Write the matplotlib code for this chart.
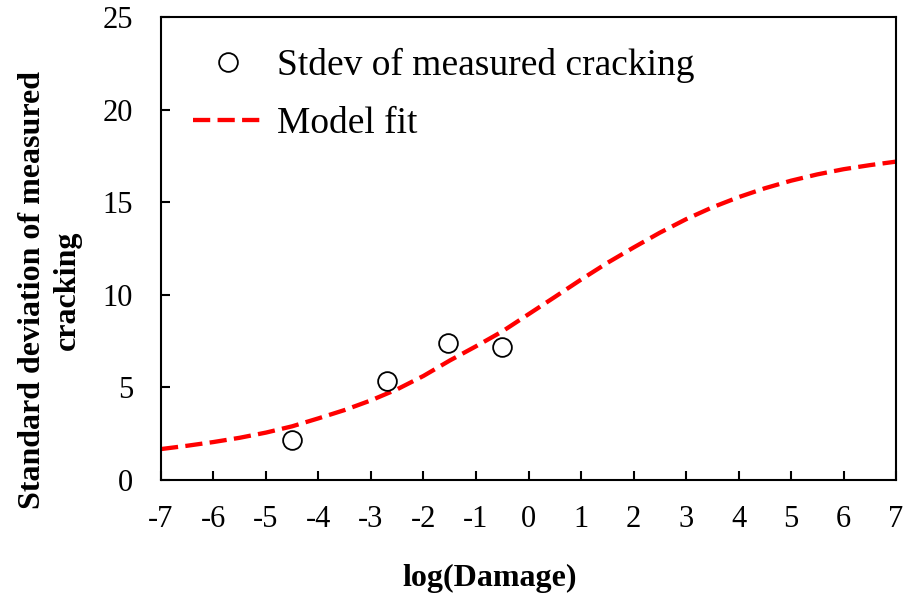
import matplotlib
matplotlib.use("Agg")
import matplotlib.pyplot as plt

# Measured data points
meas_x = [-4.5, -2.7, -1.53, -0.5]
meas_y = [2.16, 5.35, 7.40, 7.18]

# Model fit curve
fit_x = [-7, -6.5, -6, -5.5, -5, -4.5, -4, -3.5, -3, -2.5, -2, -1.5, -1, -0.5,
         0, 0.5, 1, 1.5, 2, 2.5, 3, 3.5, 4, 4.5, 5, 5.5, 6, 6.5, 7]
fit_y = [1.67, 1.85, 2.05, 2.28, 2.56, 2.90, 3.33, 3.78, 4.30, 4.90, 5.62, 6.45, 7.22, 8.02,
         8.95, 9.88, 10.82, 11.72, 12.55, 13.35, 14.08, 14.72, 15.27, 15.75, 16.16, 16.50, 16.78, 17.00, 17.19]

xticks = list(range(-7, 8))
yticks = [0, 5, 10, 15, 20, 25]

plt.rcParams['font.family'] = ['Liberation Serif', 'DejaVu Serif']

fig = plt.figure(figsize=(9.08, 6.0), dpi=100)
ax = fig.add_axes([0.1773, 0.2, 0.8095, 0.7717])

ax.plot(fit_x, fit_y, color='#ff0000', lw=3.1, dashes=[4, 1.7], label='Model fit', zorder=2)
ax.plot(meas_x, meas_y, linestyle='none', marker='o', ms=13.5, mfc='white', mec='black',
        mew=1.3, label='Stdev of measured cracking', zorder=3)

ax.set_xlim(-7, 7)
ax.set_ylim(0, 25)
ax.set_xticks(xticks)
ax.set_yticks(yticks)
ax.set_xticklabels([str(t) for t in xticks])
ax.set_yticklabels([str(t) for t in yticks])

for s in ax.spines.values():
    s.set_linewidth(1.5)
ax.tick_params(axis='x', direction='in', length=6.5, width=1.5, labelsize=22, pad=18)
ax.tick_params(axis='y', direction='in', length=6.5, width=1.5, labelsize=22, pad=20)

ax.set_xlabel('log(Damage)', fontsize=23, fontweight='bold')
ax.xaxis.set_label_coords(0.4476, -0.2117)
ax.xaxis.label.set_va('center')

ax.set_ylabel('Standard deviation of measured\ncracking', fontsize=23, fontweight='bold',
              multialignment='center', linespacing=1.25)
ax.yaxis.set_label_coords(-0.151, 0.41)
ax.yaxis.label.set_va('center')

handles, labels = ax.get_legend_handles_labels()
leg = ax.legend(handles[::-1], labels[::-1], loc='upper left', bbox_to_anchor=(0.023, 0.965),
                frameon=False, fontsize=27, handlelength=1.85, handletextpad=0.4,
                labelspacing=0.62, borderaxespad=0)

fig.savefig('out.png', dpi=100)
